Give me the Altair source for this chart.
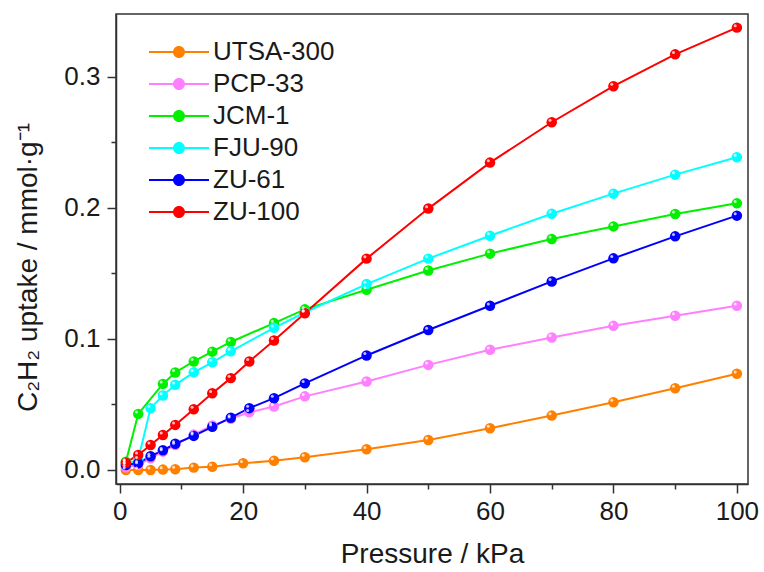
import altair as alt
import pandas as pd

series = ["UTSA-300", "PCP-33", "JCM-1", "FJU-90", "ZU-61", "ZU-100"]
colors = ["#FF8000", "#FF80FF", "#00F000", "#00FFFF", "#0000FF", "#FF0000"]

p_utsa = [1, 3, 5, 7, 9, 12, 15, 20, 25, 30, 40, 50, 60, 70, 80, 90, 100]
v_utsa = [0.0, 0.0, 0.0, 0.0003, 0.0006, 0.0018, 0.0025, 0.0051, 0.0071, 0.0097,
          0.0158, 0.0229, 0.0319, 0.0415, 0.0517, 0.0624, 0.0734]

p_pcp = [1, 3, 5, 7, 9, 12, 15, 18, 21, 25, 30, 40, 50, 60, 70, 80, 90, 100]
v_pcp = [0.002, 0.004, 0.009, 0.014, 0.019, 0.027, 0.034, 0.039, 0.044, 0.0485,
         0.0562, 0.0675, 0.0802, 0.0917, 0.1011, 0.110, 0.1177, 0.1253]

p_jcm = [1, 3, 7, 9, 12, 15, 18, 25, 30, 40, 50, 60, 70, 80, 90, 100]
v_jcm = [0.0063, 0.0428, 0.0657, 0.0744, 0.0828, 0.0903, 0.0977, 0.1121, 0.1226,
         0.1376, 0.1523, 0.1651, 0.1763, 0.1859, 0.1954, 0.2035]

p_fju = [1, 3, 5, 7, 9, 12, 15, 18, 25, 30, 40, 50, 60, 70, 80, 90, 100]
v_fju = [0.004, 0.008, 0.0472, 0.0568, 0.065, 0.0745, 0.0822, 0.0906, 0.1085,
         0.1202, 0.1419, 0.1613, 0.1788, 0.1956, 0.2109, 0.2254, 0.2387]

p_zu61 = [1, 3, 5, 7, 9, 12, 15, 18, 21, 25, 30, 40, 50, 60, 70, 80, 90, 100]
v_zu61 = [0.0038, 0.0051, 0.0105, 0.015, 0.020, 0.026, 0.0329, 0.0399, 0.0472,
          0.0548, 0.0661, 0.0874, 0.1068, 0.1253, 0.1439, 0.1615, 0.1783, 0.1941]

p_zu100 = [1, 3, 5, 7, 9, 12, 15, 18, 21, 25, 30, 40, 50, 60, 70, 80, 90, 100]
v_zu100 = [0.0056, 0.0115, 0.0191, 0.0267, 0.0344, 0.0464, 0.0585, 0.0701, 0.0828,
           0.0988, 0.1196, 0.1613, 0.1995, 0.2346, 0.2654, 0.2929, 0.3172, 0.3376]

x_ticks = [0, 10, 20, 30, 40, 50, 60, 70, 80, 90, 100]
y_ticks = [0.0, 0.05, 0.1, 0.15, 0.2, 0.25, 0.3]

all_p = [p_utsa, p_pcp, p_jcm, p_fju, p_zu61, p_zu100]
all_v = [v_utsa, v_pcp, v_jcm, v_fju, v_zu61, v_zu100]

rows = []
for k, (name, ps, vs) in enumerate(zip(series, all_p, all_v)):
    for p, v in zip(ps, vs):
        rows.append({"material": name, "pressure": p, "uptake": v, "k": k})
df = pd.DataFrame(rows)

FONT = "Liberation Sans"

x_axis = alt.Axis(
    values=x_ticks,
    labelExpr="datum.value % 20 == 0 ? datum.label : ''",
    tickSize={"condition": {"test": "datum.value % 20 == 0", "value": 9}, "value": 5},
    title="Pressure / kPa",
    titleFontSize=28,
    titleFont=FONT,
    titleFontWeight="normal",
    titleColor="#1a1a1a",
    titleY=78,
    titleBaseline="alphabetic",
    labelFontSize=26,
    labelFont=FONT,
    labelColor="#1a1a1a",
    labelPadding=5,
    grid=False,
)

y_axis = alt.Axis(
    values=y_ticks,
    format=".1f",
    labelExpr="abs(datum.value * 10 - round(datum.value * 10)) < 0.001 ? datum.label : ''",
    tickSize={"condition": {"test": "abs(datum.value * 10 - round(datum.value * 10)) < 0.001",
                            "value": 9}, "value": 5},
    title="C\u2082H\u2082 uptake / mmol\u00b7g\u207b\u00b9",
    titleFontSize=28,
    titleFont=FONT,
    titleFontWeight="normal",
    titleColor="#1a1a1a",
    titleX=-88,
    titleY=253,
    titleAngle=270,
    titleAlign="center",
    titleBaseline="middle",
    labelFontSize=26,
    labelFont=FONT,
    labelColor="#1a1a1a",
    labelPadding=7,
    grid=False,
)

x_enc = alt.X("pressure:Q", scale=alt.Scale(domain=[-0.6, 101.8], nice=False, zero=False), axis=x_axis)
y_enc = alt.Y("uptake:Q", scale=alt.Scale(domain=[-0.0107, 0.348], nice=False, zero=False), axis=y_axis)
color_scale = alt.Scale(domain=series, range=colors)

legend_symbol = ("M -6 -0.2 L 6 -0.2 L 6 0.2 L -6 0.2 Z "
                 "M 1.2 0 A 1.2 1.2 0 1 1 -1.2 0 A 1.2 1.2 0 1 1 1.2 0 Z")

legend = alt.Legend(
    title=None,
    orient="none",
    legendX=50,
    legendY=25,
    symbolType=legend_symbol,
    symbolSize=100,
    symbolStrokeWidth=0,
    symbolOpacity=1,
    labelFont=FONT,
    labelFontSize=26,
    labelColor="#1a1a1a",
    labelOffset=21,
    rowPadding=6,
    padding=0,
)

color_enc = alt.Color("material:N", scale=color_scale, legend=legend)

base = alt.Chart(df).encode(x=x_enc, y=y_enc)

lines = base.mark_line(strokeWidth=2).encode(
    color=color_enc,
    order=alt.Order("pressure:Q"),
)

points = base.mark_point(filled=True, size=110, opacity=1).encode(
    color=color_enc,
    order=alt.Order("k:Q"),
)

highlights = base.mark_circle(size=9, color="white", opacity=0.75).encode(
    xOffset=alt.value(-1.7),
    yOffset=alt.value(-1.9),
    order=alt.Order("k:Q"),
)

chart = (
    alt.layer(lines, points, highlights)
    .properties(
        width=632,
        height=470,
        autosize=alt.AutoSizeParams(type="none"),
        padding={"left": 116, "top": 14, "right": 16, "bottom": 88},
        background="white",
    )
    .configure_view(stroke="#333333", strokeWidth=1.5)
    .configure_axis(domainColor="#333333", domainWidth=1.5, tickColor="#333333", tickWidth=1.5)
)

chart.save("out.html", embed_options={"renderer": "svg", "actions": False})
